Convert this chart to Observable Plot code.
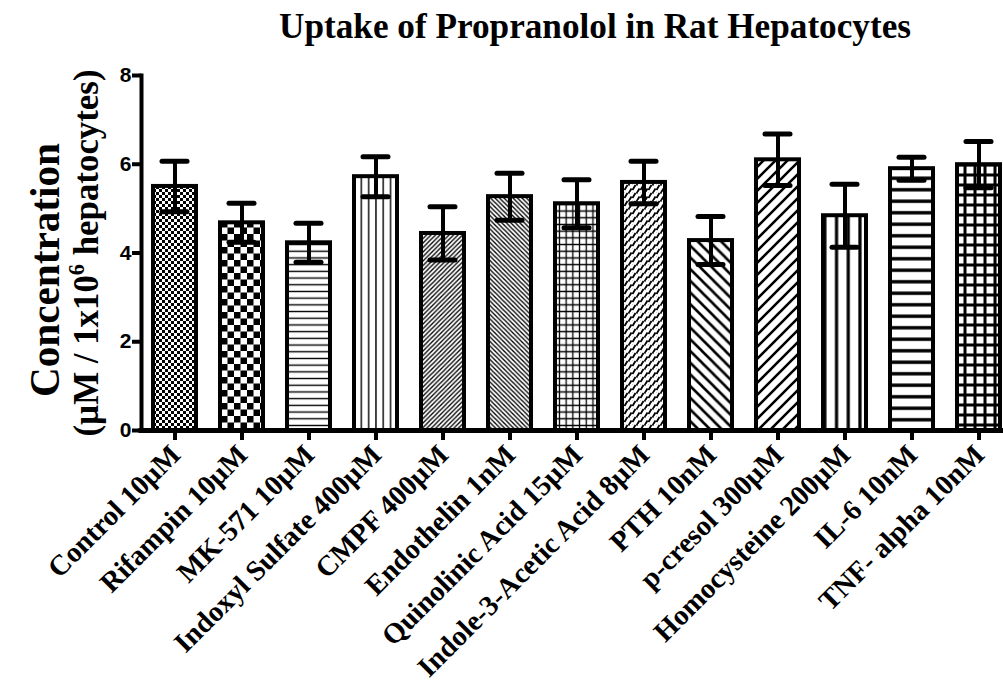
<!DOCTYPE html>
<html>
<head>
<meta charset="utf-8">
<script src="https://cdn.jsdelivr.net/npm/d3@7"></script>
<script src="https://cdn.jsdelivr.net/npm/@observablehq/plot@0.6"></script>
<style>
  html, body { margin: 0; padding: 0; background: #fff; }
  #chart svg { display: block; }
</style>
</head>
<body>
<div id="chart"></div>
<script>
// ---- data ----
const categories = [
  "Control 10µM", "Rifampin 10µM", "MK-571 10µM", "Indoxyl Sulfate 400µM",
  "CMPF 400µM", "Endothelin 1nM", "Quinolinic Acid 15µM", "Indole-3-Acetic Acid 8µM",
  "PTH 10nM", "p-cresol 300µM", "Homocysteine 200µM", "IL-6 10nM", "TNF- alpha 10nM"
];
const means  = [5.50, 4.68, 4.23, 5.72, 4.44, 5.27, 5.11, 5.59, 4.28, 6.10, 4.84, 5.90, 5.99];
const errors = [0.57, 0.44, 0.44, 0.45, 0.60, 0.53, 0.54, 0.48, 0.54, 0.58, 0.71, 0.26, 0.52];
const yTicks = [0, 2, 4, 6, 8];
const titleText = "Uptake of Propranolol in Rat Hepatocytes";

// ---- styling: one hatch pattern per bar ----
const rows = categories.map((c, i) => ({
  category: c, mean: means[i], err: errors[i], pattern: `url(#pat${i})`
}));

const chart = Plot.plot({
  width: 1003,
  height: 683,
  marginLeft: 141,
  marginRight: -8,
  marginTop: 75,
  marginBottom: 253,
  style: { fontFamily: "Liberation Serif, serif", color: "black", background: "white" },
  x: { domain: categories, paddingInner: 0.36, paddingOuter: 0.17, axis: null },
  y: { domain: [0, 8], axis: null },
  color: { type: "identity" },
  marks: [
    Plot.barY(rows, { x: "category", y: "mean", fill: "pattern", stroke: "black", strokeWidth: 4 }),
    Plot.ruleX(rows, { x: "category", y1: d => d.mean - d.err, y2: d => d.mean + d.err, stroke: "black", strokeWidth: 4 }),
    Plot.tickY(rows, { x: "category", y: d => d.mean + d.err, stroke: "black", strokeWidth: 5, strokeLinecap: "round", insetLeft: 9, insetRight: 9 }),
    Plot.tickY(rows, { x: "category", y: d => d.mean - d.err, stroke: "black", strokeWidth: 5, strokeLinecap: "round", insetLeft: 9, insetRight: 9 }),
    Plot.ruleY([0], { stroke: "black", strokeWidth: 5, strokeLinecap: "square" }),
    Plot.frame({ anchor: "left", stroke: "black", strokeWidth: 4, strokeLinecap: "square" }),
    Plot.axisY({ ticks: yTicks, tickSize: 9, tickPadding: 1, strokeWidth: 4, fontSize: 21, fontWeight: "bold",
                 fontFamily: "Liberation Sans, Arial, sans-serif", label: null }),
    Plot.axisX({ tickSize: 10, strokeWidth: 4, tickFormat: () => "", label: null }),
    Plot.text(categories, { x: d => d, frameAnchor: "bottom", rotate: -45, textAnchor: "end",
                            dx: 7, dy: 26, fontSize: 28.5, fontWeight: "bold",
                            fontFamily: "Liberation Serif, serif", fill: "black" })
  ]
});

// pattern definitions
const svg = d3.select(chart);
const defs = svg.insert("defs", ":first-child");
function pat(id, w, h, draw) {
  const p = defs.append("pattern").attr("id", id).attr("patternUnits", "userSpaceOnUse")
    .attr("width", w).attr("height", h);
  p.append("rect").attr("width", w).attr("height", h).attr("fill", "white");
  draw(p, w, h);
}
function diag(s, dir) {
  return dir > 0
    ? `M0,${s} L${s},0 M${-s/4},${s/4} L${s/4},${-s/4} M${s*3/4},${s*5/4} L${s*5/4},${s*3/4}`
    : `M0,0 L${s},${s} M${-s/4},${s*3/4} L${s/4},${s*5/4} M${s*3/4},${-s/4} L${s*5/4},${s/4}`;
}
const line = (p, d, sw) => p.append("path").attr("d", d).attr("stroke", "black").attr("stroke-width", sw).attr("fill", "none");
pat("pat0", 6, 6, p => { p.append("rect").attr("width", 3).attr("height", 3); p.append("rect").attr("x", 3).attr("y", 3).attr("width", 3).attr("height", 3); });
pat("pat1", 13, 13, p => { p.append("rect").attr("width", 6.5).attr("height", 6.5); p.append("rect").attr("x", 6.5).attr("y", 6.5).attr("width", 6.5).attr("height", 6.5); });
pat("pat2", 10, 6.7, (p, w, h) => line(p, `M0,${h/2} H${w}`, 1.4));
pat("pat3", 7.3, 10, (p, w, h) => line(p, `M${w/2},0 V${h}`, 1.4));
pat("pat4", 4.5, 4.5, (p, w) => line(p, diag(w, 1), 1.3));
pat("pat5", 4.5, 4.5, (p, w) => line(p, diag(w, -1), 1.3));
pat("pat6", 6.7, 6.7, (p, w, h) => line(p, `M0,${h/2} H${w} M${w/2},0 V${h}`, 1.3));
pat("pat7", 8, 8, p => line(p, "M0.5,6 L3.5,1 M4.5,9.5 L7.5,4.5 M4.5,1.5 L5.4,0 M0.5,-2 L-0.5,0", 1.8));
pat("pat8", 11.7, 11.7, (p, w) => line(p, diag(w, -1), 2.6));
pat("pat9", 12, 12, (p, w) => line(p, diag(w, 1), 2.6));
pat("pat10", 11.7, 10, (p, w, h) => line(p, `M${w/2},0 V${h}`, 3.2));
pat("pat11", 10, 11.5, (p, w, h) => line(p, `M0,${h/2} H${w}`, 3.4));
pat("pat12", 10, 10, (p, w, h) => line(p, `M0,${h/2} H${w} M${w/2},0 V${h}`, 3));

// title
svg.append("text")
  .attr("x", 279).attr("y", 38)
  .attr("text-anchor", "start")
  .attr("font-family", "Liberation Serif, serif").attr("font-weight", "bold").attr("font-size", 35)
  .attr("textLength", 632).attr("lengthAdjust", "spacingAndGlyphs")
  .attr("fill", "black")
  .text(titleText);

// y label (two lines)
svg.append("text")
  .attr("transform", "translate(59,270) rotate(-90)")
  .attr("text-anchor", "middle")
  .attr("font-family", "Liberation Serif, serif").attr("font-weight", "bold").attr("font-size", 42)
  .attr("textLength", 254).attr("lengthAdjust", "spacingAndGlyphs")
  .attr("fill", "black")
  .text("Concentration");
const yl2 = svg.append("text")
  .attr("transform", "translate(98,253) rotate(-90)")
  .attr("text-anchor", "middle")
  .attr("font-family", "Liberation Serif, serif").attr("font-weight", "bold").attr("font-size", 36)
  .attr("textLength", 367).attr("lengthAdjust", "spacingAndGlyphs")
  .attr("fill", "black");
yl2.append("tspan").text("(µM / 1x10");
yl2.append("tspan").attr("font-size", 23).attr("dy", -14).text("6");
yl2.append("tspan").attr("dy", 14).text(" hepatocytes)");

document.getElementById("chart").appendChild(chart);
</script>
</body>
</html>
